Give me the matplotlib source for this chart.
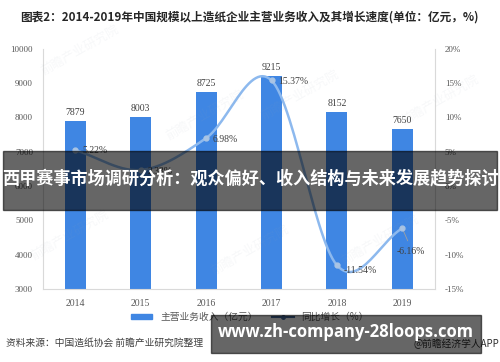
import numpy as np
import matplotlib.pyplot as plt
from matplotlib.patches import Rectangle, Patch
from matplotlib.lines import Line2D

plt.rcParams['font.family'] = ['Noto Sans CJK SC', 'DejaVu Sans']

# ---------------------------------------------------------------------------
# data
# ---------------------------------------------------------------------------
years = ["2014", "2015", "2016", "2017", "2018", "2019"]
revenue = [7879, 8003, 8725, 9215, 8152, 7650]
growth = [5.22, 2.33, 6.98, 15.37, -11.54, -6.16]

left_ticks = [3000, 4000, 5000, 6000, 7000, 8000, 9000, 10000]
right_ticks = [-15, -10, -5, 0, 5, 10, 15, 20]

BAR_COLOR = "#3F86E3"
LINE_COLOR = "#8DB9EE"
TEXT_COLOR = "#404040"
SERIF = "Liberation Serif"


def cardinal_spline(x, y, n=30, tension=0.5):
    # smooth curve through the points (like Excel's "smoothed line")
    x = np.asarray(x, float)
    y = np.asarray(y, float)
    px = np.concatenate([[2 * x[0] - x[1]], x, [2 * x[-1] - x[-2]]])
    py = np.concatenate([[2 * y[0] - y[1]], y, [2 * y[-1] - y[-2]]])
    xs, ys = [], []
    t = np.linspace(0, 1, n)
    for i in range(1, len(px) - 2):
        mx0 = tension * (px[i + 1] - px[i - 1])
        mx1 = tension * (px[i + 2] - px[i])
        my0 = tension * (py[i + 1] - py[i - 1])
        my1 = tension * (py[i + 2] - py[i])
        h00 = 2 * t**3 - 3 * t**2 + 1
        h10 = t**3 - 2 * t**2 + t
        h01 = -2 * t**3 + 3 * t**2
        h11 = t**3 - t**2
        xs.append(h00 * px[i] + h10 * mx0 + h01 * px[i + 1] + h11 * mx1)
        ys.append(h00 * py[i] + h10 * my0 + h01 * py[i + 1] + h11 * my1)
    return np.concatenate(xs), np.concatenate(ys)


fig = plt.figure(figsize=(5, 3.62), dpi=100)
ax = fig.add_axes([0.0854, 0.2017, 0.7846, 0.6638])
ax2 = ax.twinx()

x = np.arange(len(years))

# bars
ax.bar(x, revenue, width=0.32, color=BAR_COLOR, zorder=2)
for xi, v in zip(x, revenue):
    ax.text(xi, v + 120, f"{v}", ha="center", va="bottom", fontsize=7,
            family=SERIF, color=TEXT_COLOR)

ax.set_xlim(-0.5, len(years) - 0.5)
ax.set_ylim(3000, 10000)
ax.set_yticks(left_ticks)
ax.set_yticklabels([str(t) for t in left_ticks], family=SERIF, fontsize=6.5, color="#595959")
ax.set_xticks(x)
ax.set_xticklabels(years, family=SERIF, fontsize=7, color="#595959")
ax.tick_params(axis="both", length=0, pad=7)

for side in ["top", "right"]:
    ax.spines[side].set_visible(False)
for side in ["left", "bottom"]:
    ax.spines[side].set_color("#D9D9D9")
    ax.spines[side].set_linewidth(0.8)

# growth line
sx, sy = cardinal_spline(x, growth)
ax2.plot(sx, sy, color=LINE_COLOR, lw=1.8, zorder=3)
ax2.plot(x, growth, "o", ms=3.5, color="#A9C4E4", mec="#A9C4E4", zorder=4)

ax2.set_ylim(-15, 20)
ax2.set_yticks(right_ticks)
ax2.set_yticklabels([f"{t}%" for t in right_ticks], family=SERIF, fontsize=6.5, color="#595959")
ax2.tick_params(axis="y", length=0, pad=7)
for side in ["top", "left", "bottom"]:
    ax2.spines[side].set_visible(False)
ax2.spines["right"].set_color("#D9D9D9")
ax2.spines["right"].set_linewidth(0.8)

# percentage labels (offset in points)
label_offsets = [(5, 0), (5, -1), (5, -1), (5, -1), (5, -4), (6, -17)]
for i, (xi, g, (dx, dy)) in enumerate(zip(x, growth, label_offsets)):
    ax2.annotate(f"{g:.2f}%", (xi, g), xytext=(dx, dy), textcoords="offset points",
                 ha="center" if i == len(x) - 1 else "left", va="center", fontsize=7,
                 family=SERIF, color=TEXT_COLOR, zorder=5)
ax2.annotate("", (x[-1], growth[-1]), xytext=(x[-1] + 0.1, growth[-1] - 2.2),
             arrowprops=dict(arrowstyle="-", color="#A0A0A0", lw=0.6))

# legend
handles = [Patch(color=BAR_COLOR, label="主营业务收入（亿元）"),
           Line2D([], [], color="#44689A", lw=1.5, marker="o", ms=2.5, label="同比增长（%）")]
fig.legend(handles=handles, loc="center", bbox_to_anchor=(0.5, 1 - 317 / 362), ncol=2,
           frameon=False, fontsize=7, handlelength=2.2, handleheight=0.5,
           columnspacing=1.5, labelcolor="#595959")

# title + source
fig.text(20 / 500, 1 - 17 / 362, "图表2：2014-2019年中国规模以上造纸企业主营业务收入及其增长速度(单位：亿元，%)",
         ha="left", va="center", fontsize=8.4, fontweight="bold", color="#262626")
fig.text(6 / 500, 1 - 343 / 362, "资料来源：中国造纸协会 前瞻产业研究院整理",
         ha="left", va="center", fontsize=7, color="#404040")
fig.text(499 / 500, 1 - 344 / 362, "@前瞻经济学人APP",
         ha="right", va="center", fontsize=7, color="#303030")

# faint watermarks
for wx, wy in [(80, 50), (205, 115), (300, 95), (440, 100), (70, 235), (250, 250), (380, 240)]:
    fig.text(wx / 500, 1 - wy / 362, "前瞻产业研究院", rotation=30, ha="center", va="center",
             fontsize=9, color="#9AA8B8", alpha=0.08)

# overlay banners
fig.patches.append(Rectangle((3 / 500, 1 - 210 / 362), 494 / 500, 59 / 362,
                             transform=fig.transFigure, color="black", alpha=0.6, zorder=10))
fig.text(0.5, 1 - 178 / 362, "西甲赛事市场调研分析：观众偏好、收入结构与未来发展趋势探讨",
         ha="center", va="center", fontsize=12.3, fontweight="bold", color="white", zorder=11)

fig.patches.append(Rectangle((211 / 500, 1 - 353 / 362), 270 / 500, 38 / 362,
                             transform=fig.transFigure, color="black", alpha=0.6, zorder=10))
fig.text(346 / 500, 1 - 332 / 362, "www.zh-company-28loops.com",
         ha="center", va="center", fontsize=12, fontweight="bold", color="white",
         family="Open Sans", zorder=11)

fig.savefig("out.png", dpi=100)
